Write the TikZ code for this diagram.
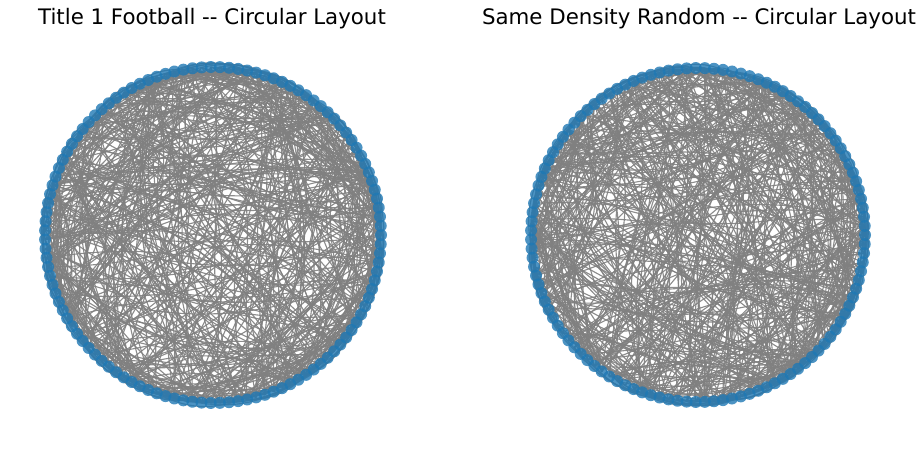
\documentclass[tikz,border=0pt]{standalone}
\usepackage{fontspec}
\newfontfamily\titlefont{DejaVu Sans}
\definecolor{nxblue}{HTML}{1F78B4}
\definecolor{edgegray}{HTML}{808080}
\tikzset{
  vert/.style={circle,inner sep=0pt,minimum size=9pt,fill=nxblue,fill opacity=0.8},
  edgeline/.style={draw=edgegray,line width=0.85pt,draw opacity=0.9},
  plottitle/.style={font=\titlefont\fontsize{16}{19}\selectfont,inner sep=0pt,anchor=base}
}
\newcommand{\vnode}{\node[vert]}

\begin{document}
\begin{tikzpicture}[x=0.75pt,y=-0.75pt]
  \useasboundingbox (0,0) rectangle (923,449);
  \node[plottitle] (lefttitle) at (212,25) {Title 1 Football -- Circular Layout};
  \node[plottitle] (righttitle) at (699,25) {Same Density Random -- Circular Layout};
  % node positions on the two circles
  \foreach \i in {0,...,114}{
    \pgfmathsetmacro\ang{-\i/115*360}
    \coordinate (l\i) at ([shift={(213,235)}]\ang:168);
    \coordinate (r\i) at ([shift={(698,235)}]\ang:167);
  }
  % edges, left graph
  \pgfmathsetseed{1915}
  \foreach \k in {1,...,613}{
    \pgfmathtruncatemacro\a{random(0,114)}
    \pgfmathtruncatemacro\b{random(0,114)}
    \ifnum\a=\b\else\draw[edgeline] (l\a) to[bend left=22] (l\b);\fi
  }
  % edges, right graph
  \pgfmathsetseed{613}
  \foreach \k in {1,...,613}{
    \pgfmathtruncatemacro\a{random(0,114)}
    \pgfmathtruncatemacro\b{random(0,114)}
    \ifnum\a=\b\else\draw[edgeline] (r\a) to[bend left=22] (r\b);\fi
  }
  % vertices
  \foreach \i in {0,...,114}{
    \vnode (lv\i) at (l\i) {};
    \vnode (rv\i) at (r\i) {};
  }
\end{tikzpicture}
\end{document}
